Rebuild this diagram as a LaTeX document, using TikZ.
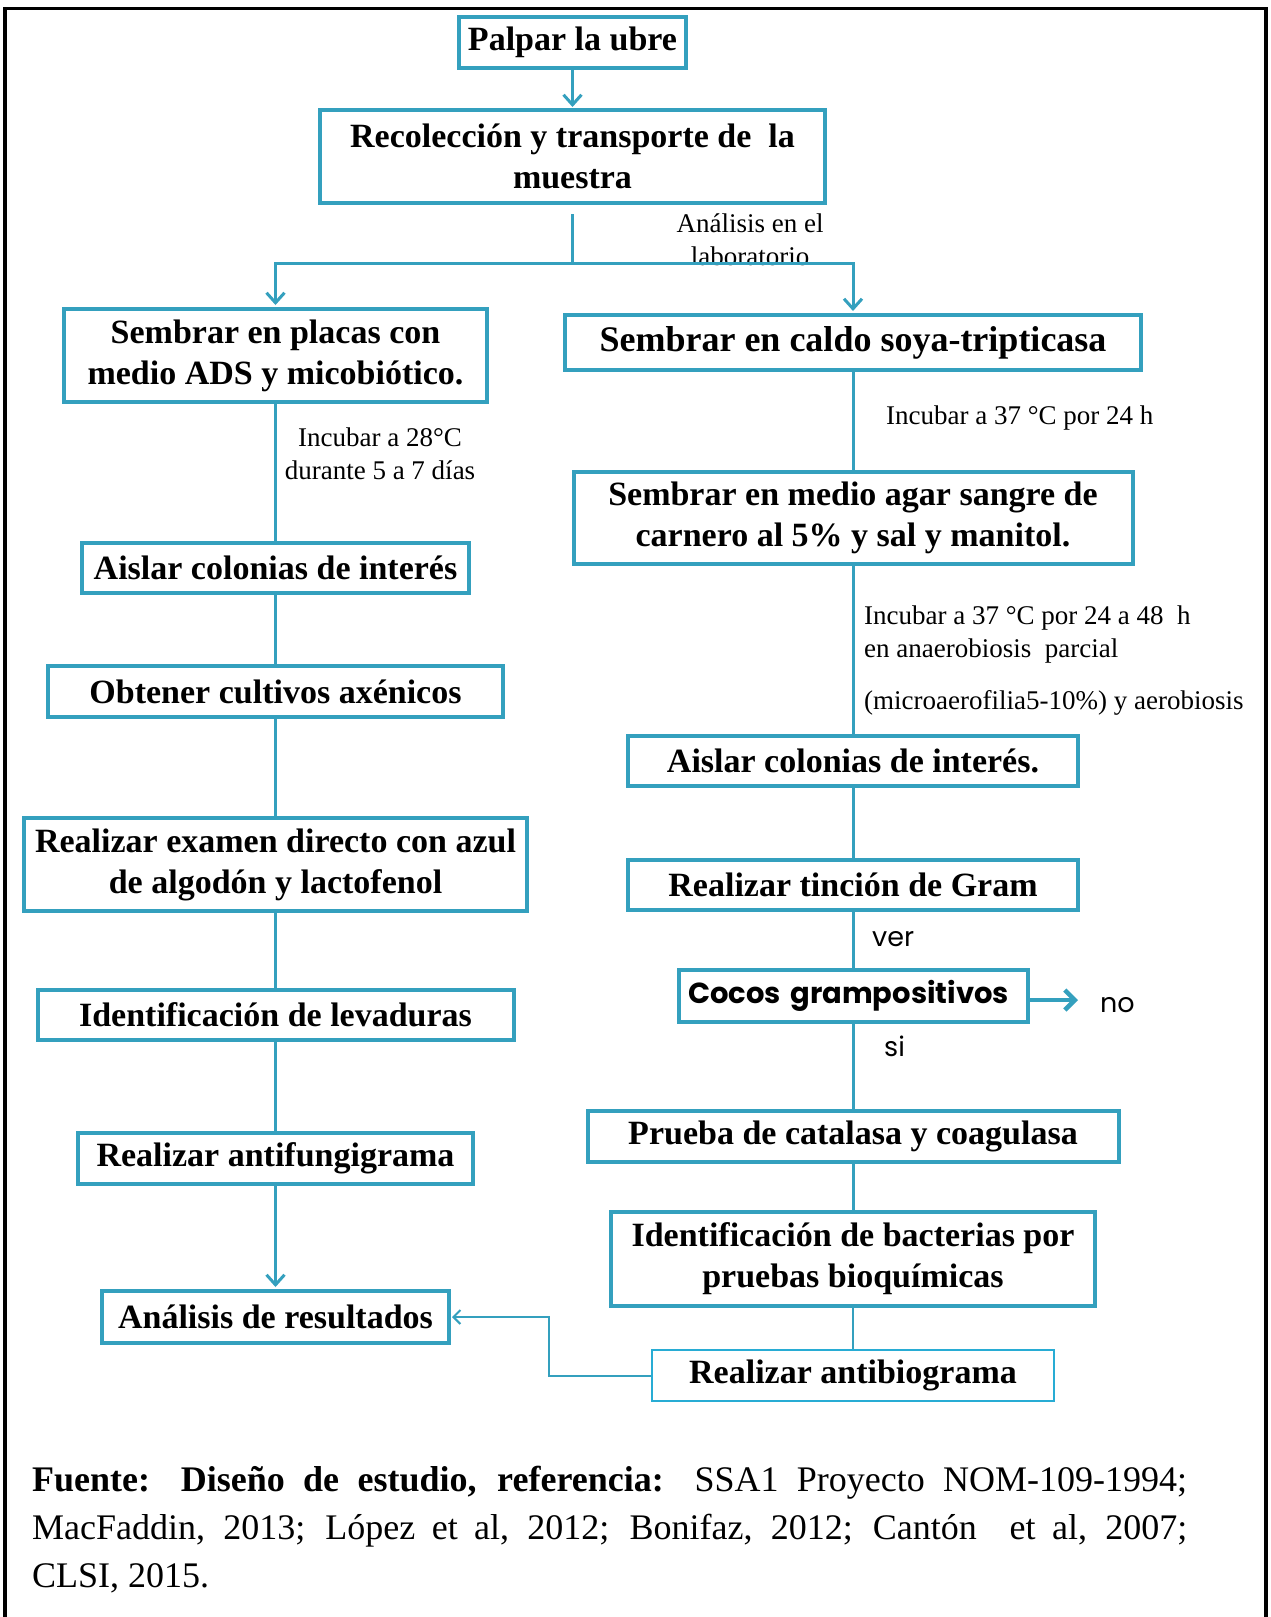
\documentclass[tikz,border=0pt]{standalone}
\usepackage{fontspec}
\setmainfont{Liberation Serif}
\newfontfamily\gothic{Poppins}
\usetikzlibrary{arrows.meta}
\definecolor{tealline}{RGB}{52,160,190}
\definecolor{cyanline}{RGB}{40,172,212}
\newcommand\boxfont{\fontsize{34}{41}\selectfont\bfseries}
\newcommand\notefont{\fontsize{27}{33}\selectfont}
\newcommand\sansnote{\gothic\fontsize{27}{33}\selectfont}
\tikzset{
  box/.style={draw=tealline, line width=4pt, fill=white, inner sep=0pt, align=center, font=\boxfont},
  thinbox/.style={box, draw=cyanline, line width=2.5pt},
  note/.style={inner sep=0pt, font=\notefont},
  snote/.style={inner sep=0pt, font=\sansnote},
  conn/.style={draw=tealline, line width=3pt},
  thinconn/.style={draw=tealline, line width=2pt},
  arr/.style={conn, -{Straight Barb[length=10pt,width=18pt]}, shorten >=1pt},
  thinarr/.style={thinconn, -{Straight Barb[length=7pt,width=14pt]}, shorten >=1pt},
  bigarr/.style={draw=tealline, line width=4.5pt, -{Straight Barb[length=10pt,width=20pt]}},
  frame/.style={draw=black, line width=3.5pt}
}
\begin{document}
\begin{tikzpicture}[x=1pt,y=-1pt]
\useasboundingbox (0,0) rectangle (1271,1617);
\fill[white] (0,0) rectangle (1271,1617);
\draw[frame] (5,1617) -- (5,8.5) -- (1266,8.5) -- (1266,1617);

% annotations (drawn first so connectors lie on top); anchor=base is the last line
\node[note, anchor=base, align=center] (lab) at (750,265) {Análisis en el\\laboratorio};
\node[note, anchor=base, align=center] (t28) at (380,479) {Incubar a 28°C\\durante 5 a 7 días};
\node[note, anchor=base west] (t37) at (886,424) {Incubar a 37 °C por 24 h};
\node[note, anchor=base west, align=left] (t48) at (864,709) {Incubar a 37 °C por 24 a 48\ \ h\\en anaerobiosis\ \ parcial\\[19pt](microaerofilia5-10\%) y aerobiosis};
\node[snote, anchor=base west] (ver) at (872,946) {ver};
\node[snote, anchor=base west] (si) at (884,1056) {si};
\node[snote, anchor=base west] (no) at (1100,1012) {no};

% boxes
\node[box, minimum width=227pt, minimum height=51pt] (palpar) at (572.5,42.5) {Palpar la ubre};
\node[box, minimum width=505pt, minimum height=93pt] (recol) at (572.5,156.5) {Recolección y transporte de\ \ la\\muestra};
\node[box, minimum width=423pt, minimum height=93pt] (placas) at (275.5,355.5) {Sembrar en placas con\\medio ADS y micobiótico.};
\node[box, minimum width=576pt, minimum height=55pt, font=\fontsize{36}{42}\selectfont\bfseries] (caldo) at (853,342.5) {Sembrar en caldo soya-tripticasa};
\node[box, minimum width=559pt, minimum height=92pt] (sangre) at (853,518) {Sembrar en medio agar sangre de\\carnero al 5\% y sal y manitol.};
\node[box, minimum width=387pt, minimum height=50pt] (aislarL) at (275.5,568) {Aislar colonias de interés};
\node[box, minimum width=455pt, minimum height=51pt] (obtener) at (275.5,691.5) {Obtener cultivos axénicos};
\node[box, minimum width=503pt, minimum height=93pt] (examen) at (275.5,864.5) {Realizar examen directo con azul\\de algodón y lactofenol};
\node[box, minimum width=476pt, minimum height=50pt] (levad) at (275.5,1015) {Identificación de levaduras};
\node[box, minimum width=395pt, minimum height=51pt] (antifungi) at (275.5,1158.5) {Realizar antifungigrama};
\node[box, minimum width=347pt, minimum height=52pt] (analisis) at (275.5,1317) {Análisis de resultados};
\node[box, minimum width=450pt, minimum height=50pt] (aislarR) at (853,761) {Aislar colonias de interés.};
\node[box, minimum width=450pt, minimum height=50pt] (tincion) at (853,885) {Realizar tinción de Gram};
\node[box, minimum width=349pt, minimum height=52pt, text width=331pt, align=left, inner xsep=9pt, font=\gothic\fontsize{29}{34}\selectfont\bfseries] (cocos) at (853.5,996) {Cocos grampositivos};
\node[box, minimum width=531pt, minimum height=51pt] (catalasa) at (853,1136.5) {Prueba de catalasa y coagulasa};
\node[box, minimum width=484pt, minimum height=94pt] (bioq) at (853,1259) {Identificación de bacterias por\\pruebas bioquímicas};
\node[thinbox, minimum width=402pt, minimum height=51pt] (antibio) at (853,1375.5) {Realizar antibiograma};

% connectors
\coordinate (split) at (572.5,263);
\draw[arr] (palpar.south) -- (recol.north);
\draw[conn] ([yshift=-9pt]recol.south) -- (split);
\draw[arr, shorten >=2pt] (split) -| (placas.north);
\draw[arr, shorten >=2pt] (split) -| (caldo.north);
\draw[conn] (placas.south) -- (aislarL.north);
\draw[conn] (aislarL.south) -- (obtener.north);
\draw[conn] (obtener.south) -- (examen.north);
\draw[conn] (examen.south) -- (levad.north);
\draw[conn] (levad.south) -- (antifungi.north);
\draw[arr, shorten >=2pt] (antifungi.south) -- (analisis.north);
\draw[conn] (caldo.south) -- (sangre.north);
\draw[conn] (sangre.south) -- (aislarR.north);
\draw[conn] (aislarR.south) -- (tincion.north);
\draw[conn] (tincion.south) -- (tincion.south |- cocos.north);
\draw[conn] (cocos.south -| catalasa.north) -- (catalasa.north);
\draw[conn] (catalasa.south) -- (bioq.north);
\draw[thinconn] (bioq.south) -- (antibio.north);
\draw[bigarr, shorten >=22pt] ([yshift=-4pt]cocos.east) -- ([yshift=-4pt]cocos.east -| no.west);
\draw[thinarr] (antibio.west) -- ++(-102,0) |- (analisis.east);

% footer
\node[anchor=base west, text width=1155pt, align=justify, inner sep=0pt, font=\fontsize{36}{48}\selectfont] (foot) at (32,1491) {\hbadness=10000 \textbf{Fuente: Diseño de estudio, referencia:} SSA1 Proyecto NOM-109-1994;\linebreak MacFaddin, 2013; López et al, 2012; Bonifaz, 2012; Cantón\ \ et al, 2007;\linebreak CLSI, 2015.};
\end{tikzpicture}
\end{document}
